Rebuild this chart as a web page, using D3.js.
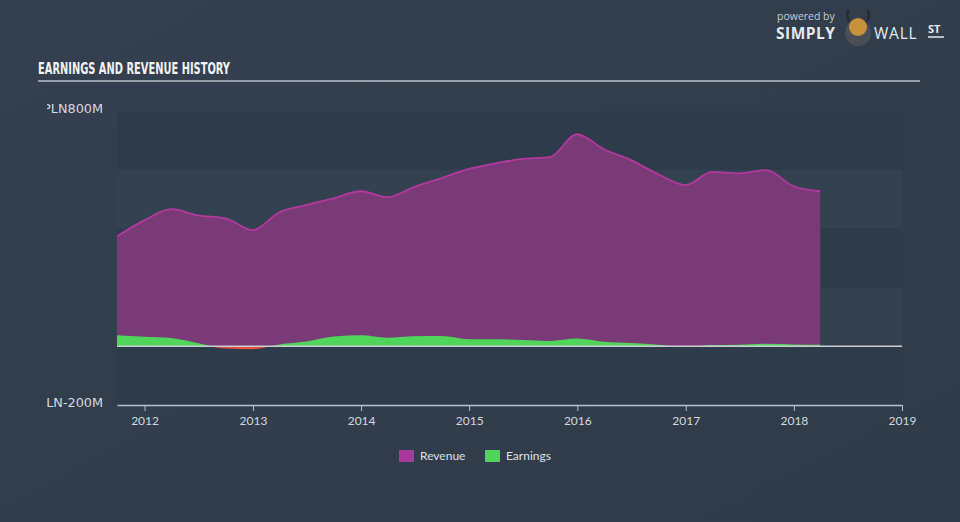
<!DOCTYPE html>
<html>
<head>
<meta charset="utf-8">
<script src="https://cdn.jsdelivr.net/npm/d3@7"></script>
<style>
  html, body { margin: 0; padding: 0; background: #323f4f; }
  svg { display: block; }
</style>
</head>
<body>
<svg id="chart" width="960" height="522"></svg>
<script>
// ---- data ----
const quarterDates = [
  "2011-09-30","2011-12-31","2012-03-31","2012-06-30","2012-09-30","2012-12-31",
  "2013-03-31","2013-06-30","2013-09-30","2013-12-31","2014-03-31","2014-06-30",
  "2014-09-30","2014-12-31","2015-03-31","2015-06-30","2015-09-30","2015-12-31",
  "2016-03-31","2016-06-30","2016-09-30","2016-12-31","2017-03-31","2017-06-30",
  "2017-09-30","2017-12-31","2018-03-31"
];
const revenue = [374, 428, 466, 445, 435, 395, 455, 480, 503, 527, 507, 542,
                 572, 603, 622, 637, 643, 721, 670, 633, 585, 548, 593, 588,
                 599, 544, 527];
const earnings = [37, 32, 28, 10, -8, -10, 6, 16, 33, 37, 29, 34,
                  35, 24, 24, 21, 18, 26, 15, 11, 5, -3, 4, 5,
                  8, 6, 5];
const yTickValues = [-200, 800];
const yTickLabels = ["PLN-200M", "PLN800M"];
const xTickYears = [2012, 2013, 2014, 2015, 2016, 2017, 2018, 2019];
const seriesNames = ["Revenue", "Earnings"];

(function () {
// ---- layout ----
const svg = d3.select("#chart");
const W = 960, H = 522;
const pL = 117, pR = 902, pT = 111, pB = 405;

const parse = d3.timeParse("%Y-%m-%d");
const dates = quarterDates.map(parse);

const x = d3.scaleTime()
  .domain([parse("2011-09-30"), new Date(2019, 0, 1)])
  .range([pL, pR]);
const y = d3.scaleLinear().domain([-200, 800]).range([pB, pT]);

// background gradient
const defs = svg.append("defs");
const bg = defs.append("linearGradient").attr("id", "bg")
  .attr("x1", "0").attr("y1", "0").attr("x2", "1").attr("y2", "1");
bg.append("stop").attr("offset", "0").attr("stop-color", "#34404f");
bg.append("stop").attr("offset", "1").attr("stop-color", "#2f3b49");
svg.append("rect").attr("width", W).attr("height", H).attr("fill", "url(#bg)");

// plot bands
const bandEdges = [800, 600, 400, 200, 0, -200];
for (let i = 0; i < bandEdges.length - 1; i++) {
  svg.append("rect")
    .attr("x", pL).attr("width", pR - pL)
    .attr("y", y(bandEdges[i])).attr("height", y(bandEdges[i + 1]) - y(bandEdges[i]))
    .attr("fill", i % 2 === 0 ? "#2e3b4a" : "#334150");
}

// title
svg.append("text").attr("x", 38).attr("y", 74)
  .attr("font-family", "'DejaVu Sans Condensed', 'Liberation Sans Narrow', sans-serif")
  .attr("font-weight", "bold").attr("font-size", 15.5).attr("fill", "#f2f2f2")
  .attr("textLength", 192).attr("lengthAdjust", "spacingAndGlyphs")
  .text("EARNINGS AND REVENUE HISTORY");
svg.append("line").attr("x1", 38).attr("x2", 920).attr("y1", 81).attr("y2", 81)
  .attr("stroke", "#b9c0c8").attr("stroke-width", 1.5);

// logo
const logo = svg.append("g");
logo.append("text").attr("x", 777).attr("y", 20)
  .attr("font-family", "'Open Sans', sans-serif").attr("font-size", 10.5)
  .attr("fill", "#c9ced4").text("powered by");
logo.append("text").attr("x", 776).attr("y", 39)
  .attr("font-family", "'Open Sans', sans-serif").attr("font-weight", "bold")
  .attr("font-size", 15.5).attr("fill", "#e6e9ec").attr("letter-spacing", 0.5).text("SIMPLY");
logo.append("circle").attr("cx", 858).attr("cy", 33).attr("r", 13).attr("fill", "#4a4f57");
logo.append("circle").attr("cx", 858).attr("cy", 27).attr("r", 9).attr("fill", "#c8913a");
logo.append("path").attr("d", "M849 21 Q845 14 849 10 M867 21 Q871 14 867 10")
  .attr("stroke", "#2a2a2a").attr("stroke-width", 2.5).attr("fill", "none");
logo.append("text").attr("x", 874).attr("y", 39)
  .attr("font-family", "'Open Sans', sans-serif").attr("font-size", 15.5)
  .attr("fill", "#e6e9ec").attr("letter-spacing", 0.8).text("WALL");
logo.append("text").attr("x", 928).attr("y", 33)
  .attr("font-family", "'Open Sans', sans-serif").attr("font-weight", "bold").attr("font-size", 11)
  .attr("fill", "#e6e9ec").text("ST");
logo.append("line").attr("x1", 928).attr("x2", 944).attr("y1", 37).attr("y2", 37)
  .attr("stroke", "#e6e9ec").attr("stroke-width", 1.5);

// y labels (clipped on the left like the original)
defs.append("clipPath").attr("id", "ylabclip").append("rect")
  .attr("x", 47).attr("y", 0).attr("width", 70).attr("height", H);
const ylab = svg.append("g").attr("clip-path", "url(#ylabclip)");
yTickValues.forEach((v, i) => {
  ylab.append("text").attr("x", 103).attr("y", y(v) - 2)
    .attr("text-anchor", "end").attr("dominant-baseline", "middle")
    .attr("font-family", "'DejaVu Sans', sans-serif").attr("font-size", 12.8)
    .attr("fill", "#d5d9de").text(yTickLabels[i]);
});

// areas
const curve = d3.curveMonotoneX;
const revArea = d3.area().x((d, i) => x(dates[i])).y0(y(0)).y1(d => y(d)).curve(curve);
const revLine = d3.line().x((d, i) => x(dates[i])).y(d => y(d)).curve(curve);
const earnArea = d3.area().x((d, i) => x(dates[i])).y0(y(0)).y1(d => y(d)).curve(curve);

svg.append("path").datum(revenue).attr("d", revArea).attr("fill", "#7a3977");
svg.append("path").datum(revenue).attr("d", revLine)
  .attr("fill", "none").attr("stroke", "#b4399f").attr("stroke-width", 1.8);

defs.append("clipPath").attr("id", "posclip").append("rect")
  .attr("x", pL).attr("y", pT - 20).attr("width", pR - pL).attr("height", y(0) - pT + 20);
defs.append("clipPath").attr("id", "negclip").append("rect")
  .attr("x", pL).attr("y", y(0)).attr("width", pR - pL).attr("height", pB - y(0));

svg.append("path").datum(earnings).attr("d", earnArea)
  .attr("fill", "#4fd65a").attr("clip-path", "url(#posclip)");
svg.append("path").datum(earnings).attr("d", earnArea)
  .attr("fill", "#e8503f").attr("clip-path", "url(#negclip)");

// zero line
svg.append("line").attr("x1", pL).attr("x2", pR).attr("y1", y(0)).attr("y2", y(0))
  .attr("stroke", "#c9cdd2").attr("stroke-width", 1.5);

// x axis
const xAxis = d3.axisBottom(x)
  .tickValues(xTickYears.map(yr => new Date(yr, 0, 1)))
  .tickFormat(d3.timeFormat("%Y"))
  .tickSize(6).tickSizeOuter(0);
const gx = svg.append("g").attr("transform", `translate(0,${pB})`).call(xAxis);
gx.select(".domain").attr("stroke", "#b9c2cc").attr("stroke-width", 1.5);
gx.selectAll(".tick line").attr("stroke", "#b9c2cc");
gx.selectAll(".tick text").attr("fill", "#d5d9de").attr("font-size", 12)
  .attr("font-family", "Lato, 'Open Sans', sans-serif").attr("dy", "0.95em");

// legend
const legendColors = ["#a8399a", "#4fd65a"];
const legendX = [399, 485];
seriesNames.forEach((name, i) => {
  svg.append("rect").attr("x", legendX[i]).attr("y", 450).attr("width", 15).attr("height", 12)
    .attr("fill", legendColors[i]);
  svg.append("text").attr("x", legendX[i] + 21).attr("y", 460)
    .attr("font-family", "Lato, 'Open Sans', sans-serif").attr("font-size", 12)
    .attr("fill", "#dde0e4").text(name);
});
})();
</script>
</body>
</html>
